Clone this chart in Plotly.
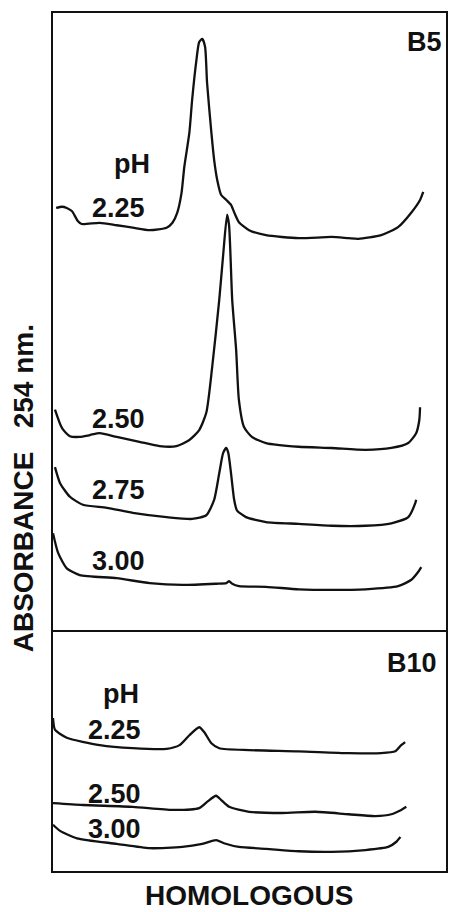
import plotly.graph_objects as go

# ---------------- data (elution position 0-100, absorbance arbitrary units) -------------
# Panel B5
b5_225_x = [0.8, 2.3, 3.5, 4.8, 6.3, 7.3, 11.9, 16.2, 20.3, 24.6, 28.9, 30.4, 31.6, 32.7, 33.4, 34.7,
            35.4, 36.5, 37.2, 38.0, 38.7, 39.2, 40.3, 41.0, 41.8, 42.8, 44.1, 45.3, 46.1, 47.3, 49.9,
            54.2, 62.5, 70.9, 75.2, 77.7, 83.5, 87.8, 91.1, 93.4, 94.2]
b5_225_y = [68.4, 68.6, 68.4, 67.9, 66.3, 65.8, 66.0, 65.6, 65.2, 64.8, 65.2, 66.0, 67.6, 70.8, 75.0, 80.6,
            85.9, 92.4, 95.3, 95.8, 94.5, 88.7, 80.6, 76.2, 72.9, 70.5, 69.7, 68.9, 67.7, 66.1, 64.8,
            64.0, 63.5, 63.7, 63.5, 63.4, 64.0, 65.3, 67.6, 69.7, 71.0]

b5_250_x = [0.5, 2.3, 4.3, 6.8, 9.4, 11.9, 16.2, 22.0, 27.1, 31.4, 34.7, 37.2, 39.0, 40.5, 42.3, 43.3,
            44.3, 44.8, 45.6, 46.6, 47.3, 48.6, 50.6, 54.2, 62.5, 70.9, 79.5, 86.1, 90.4, 92.4, 93.2, 93.4]
b5_250_y = [35.7, 32.7, 31.4, 31.3, 31.6, 31.9, 31.3, 30.5, 29.8, 29.8, 30.8, 32.4, 35.2, 42.6, 53.5, 60.8,
            67.3, 65.6, 53.5, 45.4, 37.3, 32.9, 31.3, 30.3, 29.7, 29.5, 29.2, 29.5, 30.3, 31.9, 34.0, 36.1]

b5_275_x = [0.5, 1.8, 4.3, 7.6, 13.7, 20.3, 28.9, 35.4, 39.0, 41.0, 42.3, 43.3, 44.1, 44.6, 45.3, 46.1,
            46.8, 49.1, 54.2, 62.5, 70.9, 79.5, 86.1, 90.4, 92.2, 92.4]
b5_275_y = [26.4, 23.8, 21.6, 20.3, 19.8, 19.0, 18.3, 18.0, 18.6, 21.1, 25.4, 28.7, 29.5, 28.7, 25.4, 21.1,
            19.4, 18.3, 17.5, 17.2, 16.9, 16.9, 17.3, 18.3, 20.6, 21.1]

b5_300_x = [0.0, 1.3, 3.5, 6.8, 16.2, 24.6, 32.9, 41.5, 44.1, 44.8, 45.6, 47.3, 54.2, 62.5, 70.9, 79.5,
            87.8, 91.1, 92.9, 93.7]
b5_300_y = [15.7, 12.5, 10.0, 8.9, 8.4, 7.6, 7.3, 7.5, 7.6, 7.9, 7.5, 7.1, 7.0, 6.6, 6.5, 6.6,
            7.1, 8.1, 9.4, 10.2]

# Panel B10
b10_225_x = [0.0, 0.5, 3.5, 11.9, 20.3, 28.9, 32.2, 34.7, 37.2, 38.5, 40.3, 42.3, 49.9, 62.5, 75.2, 83.5,
             87.1, 88.6, 89.6]
b10_225_y = [24.8, 22.9, 21.6, 20.4, 19.9, 19.8, 20.4, 22.0, 23.3, 22.5, 20.7, 19.9, 19.6, 19.4, 19.1, 19.1,
             19.4, 20.4, 20.9]

b10_250_x = [0.0, 7.6, 20.3, 30.4, 37.2, 39.2, 41.5, 42.8, 44.8, 49.9, 58.2, 66.8, 75.2, 82.0, 86.1, 88.6, 89.9]
b10_250_y = [11.0, 10.7, 10.4, 9.9, 10.2, 11.2, 12.2, 11.5, 10.4, 9.6, 9.4, 9.6, 9.2, 8.9, 9.2, 9.9, 10.4]

b10_300_x = [0.0, 1.8, 6.1, 16.2, 24.6, 32.9, 38.0, 41.5, 43.5, 47.3, 54.2, 62.5, 70.9, 79.5, 85.3, 87.3, 88.4]
b10_300_y = [7.5, 6.5, 5.3, 4.4, 3.7, 3.9, 4.4, 5.0, 4.5, 3.9, 3.6, 3.2, 3.1, 3.4, 3.9, 4.7, 5.5]

panel_labels = ["B5", "B10"]
b5_ph = ["2.25", "2.50", "2.75", "3.00"]
b10_ph = ["2.25", "2.50", "3.00"]
x_title = "HOMOLOGOUS"
y_title = "ABSORBANCE\u00a0\u00a0\u00a0254\u00a0nm."

# ---------------- figure ----------------
INK = "#111111"
FONT = "Liberation Sans, Arial, sans-serif"
split = 241 / 858

fig = go.Figure()
line = dict(color=INK, width=2.3, shape="spline", smoothing=0.6)
for xs, ys in [(b5_225_x, b5_225_y), (b5_250_x, b5_250_y), (b5_275_x, b5_275_y), (b5_300_x, b5_300_y)]:
    fig.add_trace(go.Scatter(x=xs, y=ys, mode="lines", line=line, xaxis="x", yaxis="y",
                             hoverinfo="skip", showlegend=False))
for xs, ys in [(b10_225_x, b10_225_y), (b10_250_x, b10_250_y), (b10_300_x, b10_300_y)]:
    fig.add_trace(go.Scatter(x=xs, y=ys, mode="lines", line=line, xaxis="x2", yaxis="y2",
                             hoverinfo="skip", showlegend=False))

ax = dict(showline=True, linecolor=INK, linewidth=2, mirror=True, showgrid=False,
          zeroline=False, showticklabels=False, ticks="", fixedrange=True)

fig.update_layout(
    width=449, height=912,
    margin=dict(l=53, r=1, t=13, b=41),
    paper_bgcolor="white", plot_bgcolor="white",
    xaxis=dict(ax, domain=[0, 1], range=[0, 100], anchor="y"),
    yaxis=dict(ax, domain=[split, 1], range=[0, 100], anchor="x"),
    xaxis2=dict(ax, domain=[0, 1], range=[0, 100], anchor="y2", mirror=False),
    yaxis2=dict(ax, domain=[0, split], range=[0, 241 / 6.17], anchor="x2"),
    font=dict(family=FONT, color=INK),
)

ann = []
def lab(text, x, y, xref, yref, size=27, xanchor="left"):
    ann.append(dict(text="<b>%s</b>" % text, x=x, y=y, xref=xref, yref=yref, showarrow=False,
                    xanchor=xanchor, yanchor="middle", font=dict(size=size, family=FONT, color=INK)))

# B5 panel
lab(panel_labels[0], 99.4, 95.3, "x", "y", xanchor="right")
lab("pH", 15.0, 75.5, "x", "y")
for t, yy in zip(b5_ph, [68.4, 34.2, 22.7, 11.2]):
    lab(t, 9.3, yy, "x", "y")
# B10 panel
lab(panel_labels[1], 98.2, 33.7, "x2", "y2", xanchor="right")
lab("pH", 12.2, 28.7, "x2", "y2")
for t, yy in zip(b10_ph, [22.9, 12.4, 6.8]):
    lab(t, 8.4, yy, "x2", "y2")

# axis titles
ann.append(dict(text="<b>%s</b>" % x_title, x=0.499, y=-0.028, xref="paper", yref="paper",
                showarrow=False, xanchor="center", yanchor="middle",
                font=dict(size=28, family=FONT, color=INK)))
ann.append(dict(text="<b>%s</b>" % y_title, x=-0.073, y=0.4464, xref="paper", yref="paper",
                showarrow=False, xanchor="center", yanchor="middle", textangle=-90,
                font=dict(size=28, family=FONT, color=INK)))
fig.update_layout(annotations=ann)

fig.write_html("out.html", config={"displayModeBar": False, "staticPlot": True},
               post_script="document.body.style.margin='0';document.body.style.overflow='hidden';")
